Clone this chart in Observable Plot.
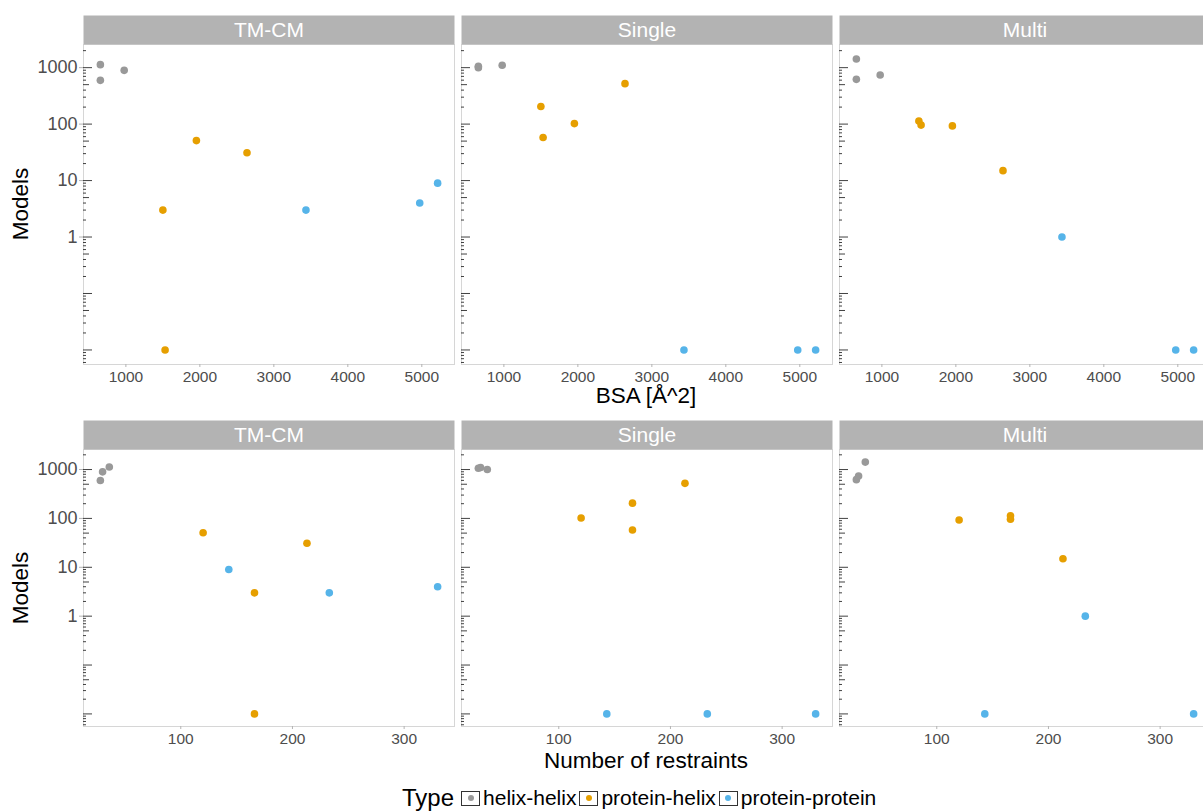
<!DOCTYPE html>
<html>
<head>
<meta charset="utf-8">
<script src="https://cdn.jsdelivr.net/npm/d3@7"></script>
<script src="https://cdn.jsdelivr.net/npm/@observablehq/plot@0.6"></script>
<style>
  html, body { margin: 0; padding: 0; background: #fff; overflow: hidden; }
  #page { position: relative; width: 1203px; height: 812px; overflow: hidden;
          font-family: "Liberation Sans", Arial, sans-serif; color: #000; }
  .row { position: absolute; left: 0; max-width: none !important; }
  .title { position: absolute; white-space: nowrap; font-size: 22.5px; transform: translate(-50%, -50%); }
  .ytitle { transform: translate(-50%, -50%) rotate(-90deg); }
  #legend { position: absolute; left: 402px; top: 798px; transform: translateY(-50%);
            display: flex; align-items: center; white-space: nowrap; }
  #legend .lt { font-size: 24px; margin-right: 6px; }
  #legend .key { width: 19px; height: 15px; border: 1px solid #333; box-sizing: border-box;
                 display: flex; align-items: center; justify-content: center; margin-left: 1px; }
  #legend .key i { width: 6px; height: 6px; border-radius: 50%; display: block; }
  #legend .lab { font-size: 21px; margin-left: 3px; margin-right: 2px; }
</style>
</head>
<body>
<div id="page"></div>
<script>
// Docking protocols (facets) and interface types
const protocols = ["TM-CM", "Single", "Multi"];
const types = ["helix-helix", "protein-helix", "protein-protein"];
const typeColors = ["#999999", "#E69F00", "#56B4E9"];

// One entry per complex
const systemType = ["helix-helix", "helix-helix", "helix-helix",
                    "protein-helix", "protein-helix", "protein-helix", "protein-helix",
                    "protein-protein", "protein-protein", "protein-protein"];
const bsa =        [655, 655, 977, 1500, 1530, 1953, 2637, 3434, 4972, 5214];
const restraints = [36, 28, 30, 166, 166, 120, 213, 233, 330, 143];

// Number of acceptable models per protocol
const modelsTMCM   = [1130, 596, 896, 3, 0, 51, 31, 3, 4, 9];
const modelsSingle = [1000, 1060, 1100, 205, 58, 102, 521, 0, 0, 0];
const modelsMulti  = [1420, 621, 740, 113, 96, 93, 15, 1, 0, 0];

// Axis tick labels
const yTicks = [1, 10, 100, 1000];
const bsaTicks = [1000, 2000, 3000, 4000, 5000];
const restraintTicks = [100, 200, 300];

// zero counts are shown at the bottom of the log axis
const zeroFloor = 0.01;

const modelsBy = {"TM-CM": modelsTMCM, "Single": modelsSingle, "Multi": modelsMulti};
const rows = [];
for (const p of protocols) {
  modelsBy[p].forEach((m, i) => rows.push({
    protocol: p, type: systemType[i], bsa: bsa[i], restraints: restraints[i], models: m
  }));
}

// ggplot-like 5% expansion of continuous domains
function expand([a, b], f = 0.05) { const d = (b - a) * f; return [a - d, b + d]; }
const logExt = expand([Math.log10(zeroFloor), Math.log10(d3.max(rows, d => d.models))]);
const yDomain = [10 ** logExt[0], 10 ** logExt[1]];

// log tick marks (long at decades, medium at 5s, short elsewhere)
const logLong = [], logMid = [], logShort = [];
for (let e = -3; e <= 4; e++) {
  for (let k = 1; k <= 9; k++) {
    const v = k * Math.pow(10, e);
    if (v < yDomain[0] || v > yDomain[1]) continue;
    (k === 1 ? logLong : k === 5 ? logMid : logShort).push(v);
  }
}

const panelW = 371, gap = 7, marginLeft = 83;
const plotWidth = marginLeft + 3 * panelW + 2 * gap;
const font = '"Liberation Sans", Arial, sans-serif';

function facetRow({xField, xTicks, height, marginTop, marginBottom}) {
  const panelH = height - marginTop - marginBottom;
  const xDomain = expand(d3.extent(rows, d => d[xField]));
  return Plot.plot({
    width: plotWidth, height, marginLeft, marginRight: 0, marginTop, marginBottom,
    style: {fontFamily: font, fontSize: "15.5px", background: "white", overflow: "visible", maxWidth: "none"},
    fx: {domain: protocols, range: [marginLeft, plotWidth], paddingInner: gap / (panelW + gap),
         paddingOuter: 0, round: false, axis: null},
    x: {domain: xDomain},
    y: {type: "log", domain: yDomain},
    color: {domain: types, range: typeColors},
    marks: [
      Plot.frame({stroke: "#d6d6d6"}),
      Plot.frame({fill: "#b3b3b3", insetTop: -29, insetBottom: panelH}),
      Plot.text(protocols, {fx: d => d, text: d => d, frameAnchor: "top", lineAnchor: "middle",
                            dy: -14.5, fill: "white", fontSize: 21}),
      Plot.tickY(logLong, {y: d => d, insetRight: panelW - 9, stroke: "#111", strokeWidth: 0.8}),
      Plot.tickY(logMid, {y: d => d, insetRight: panelW - 6, stroke: "#111", strokeWidth: 0.8}),
      Plot.tickY(logShort, {y: d => d, insetRight: panelW - 3, stroke: "#111", strokeWidth: 0.8}),
      Plot.axisY(yTicks, {tickFormat: d3.format("d"), tickSize: 4, tickPadding: 2,
                          stroke: "#b3b3b3", fill: "#4d4d4d", fontSize: 18, label: null}),
      Plot.axisX(xTicks, {tickFormat: d3.format("d"), tickSize: 3, tickPadding: 3,
                          stroke: "#b3b3b3", fill: "#4d4d4d", fontSize: 15.5, label: null}),
      Plot.dot(rows, {fx: "protocol", x: xField, y: d => Math.max(d.models, zeroFloor),
                      fill: "type", r: 3.8})
    ]
  });
}

const page = document.getElementById("page");

const topRow = facetRow({xField: "bsa", xTicks: bsaTicks, height: 410, marginTop: 44, marginBottom: 46});
topRow.classList.add("row"); topRow.style.top = "0px";
page.appendChild(topRow);

const bottomRow = facetRow({xField: "restraints", xTicks: restraintTicks, height: 370, marginTop: 39, marginBottom: 54});
bottomRow.classList.add("row"); bottomRow.style.top = "410px";
page.appendChild(bottomRow);

function addTitle(text, x, y, cls) {
  const d = document.createElement("div");
  d.className = "title" + (cls ? " " + cls : "");
  d.textContent = text;
  d.style.left = x + "px"; d.style.top = y + "px";
  page.appendChild(d);
}
addTitle("Models", 21, 204, "ytitle");
addTitle("Models", 21, 588, "ytitle");
addTitle("BSA [Å^2]", 646, 396);
addTitle("Number of restraints", 646, 761);

// legend
const legend = document.createElement("div");
legend.id = "legend";
const lt = document.createElement("span");
lt.className = "lt"; lt.textContent = "Type";
legend.appendChild(lt);
types.forEach((t, i) => {
  const key = document.createElement("span");
  key.className = "key";
  const dot = document.createElement("i");
  dot.style.background = typeColors[i];
  key.appendChild(dot);
  const lab = document.createElement("span");
  lab.className = "lab"; lab.textContent = t;
  legend.appendChild(key); legend.appendChild(lab);
});
page.appendChild(legend);
</script>
</body>
</html>
